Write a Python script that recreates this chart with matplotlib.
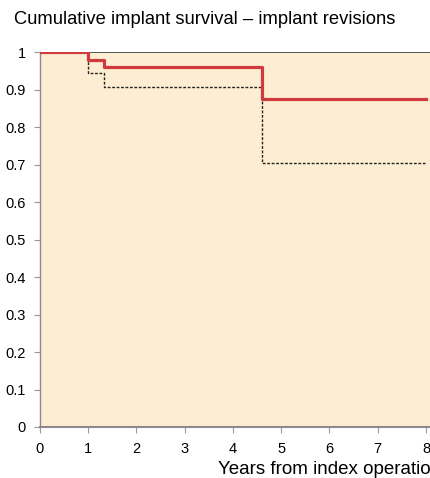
import matplotlib
matplotlib.use("Agg")
import matplotlib.pyplot as plt

plt.rcParams['font.family'] = ['Liberation Sans', 'DejaVu Sans']

# Data (Kaplan-Meier step curve with lower and upper confidence bounds)
times = [0, 1.0, 1.33, 4.6, 8.0]
survival = [1.0, 0.980, 0.961, 0.874, 0.874]
lower_ci = [1.0, 0.945, 0.906, 0.703, 0.703]
upper_ci = [1.0, 1.0, 1.0, 1.0, 1.0]
upper_times = [0, 1.0, 1.33, 4.6, 8.3]

x_ticks = [0, 1, 2, 3, 4, 5, 6, 7, 8]
y_ticks = [0, 0.1, 0.2, 0.3, 0.4, 0.5, 0.6, 0.7, 0.8, 0.9, 1.0]
y_ticklabels = ["0", "0.1", "0.2", "0.3", "0.4", "0.5", "0.6", "0.7", "0.8", "0.9", "1"]

W, H = 431, 478
fig = plt.figure(figsize=(W / 100, H / 100), dpi=100)

px_per_year = 48.25
x_max = 8.3
left_px, right_px = 40, 40 + px_per_year * x_max
top_px, bottom_px = 52, 427
ax = fig.add_axes([left_px / W, 1 - bottom_px / H, (right_px - left_px) / W, (bottom_px - top_px) / H])
ax.set_facecolor('#FDEED3')

ax.step(upper_times, upper_ci, where='post', color='#3a3a3a', lw=1.2, zorder=2)
ax.step(times, lower_ci, where='post', color='#222222', lw=1.0, linestyle=(0, (2, 1.2)), zorder=3)
ax.step(times, survival, where='post', color='#D0393E', lw=2.3, zorder=4)

ax.set_xlim(0, x_max)
ax.set_ylim(0, 1)
ax.set_xticks(x_ticks)
ax.set_xticklabels([str(t) for t in x_ticks])
ax.set_yticks(y_ticks)
ax.set_yticklabels(y_ticklabels)

for s in ['top', 'right']:
    ax.spines[s].set_visible(False)
ax.spines['left'].set_color('#8a8a8a')
ax.spines['bottom'].set_color('#8a8a8a')
ax.spines['bottom'].set_linewidth(1.5)
ax.spines['left'].set_linewidth(1.0)
ax.tick_params(axis='both', colors='#9a9a9a', labelcolor='black', labelsize=10.5, length=4, width=0.8)
ax.tick_params(axis='x', pad=7)
ax.tick_params(axis='y', pad=6)

fig.text(14 / W, 1 - 20 / H, "Cumulative implant survival – implant revisions",
         fontsize=13.2, ha='left', va='center')
fig.text(218 / W, 1 - 469 / H, "Years from index operation", fontsize=13.5, ha='left', va='center')

fig.savefig("out.png", dpi=100)
